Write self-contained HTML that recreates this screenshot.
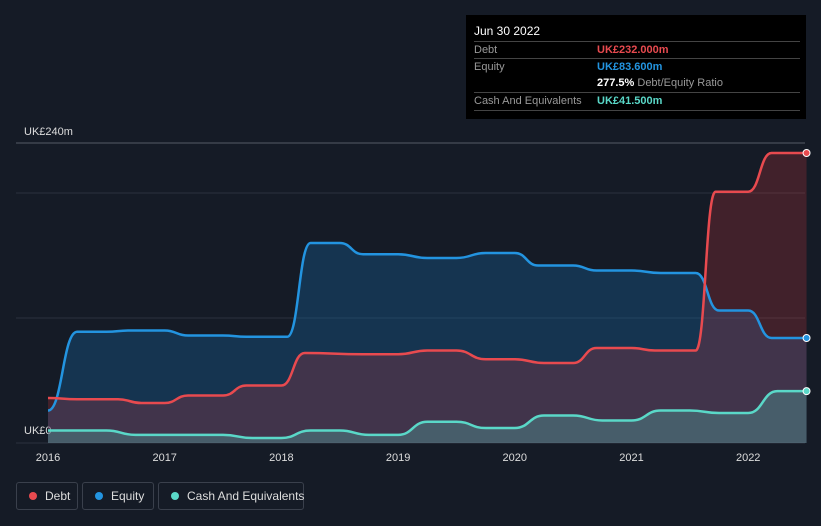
<!DOCTYPE html>
<html><head><meta charset="utf-8"><style>
body{margin:0;background:#151b26;font-family:"Liberation Sans",sans-serif;}
#wrap{position:relative;width:821px;height:526px;overflow:hidden;background:#151b26;}
.tt{position:absolute;left:466px;top:15px;width:340px;height:104px;background:#000;color:#ddd;font-size:11px;}
.tt .row{position:absolute;left:8px;right:6px;border-top:1px solid #444;height:17px;line-height:17px;color:#999;}
.tt .v{position:absolute;left:123px;font-weight:bold;}
.leg{position:absolute;top:482px;height:28px;border:1px solid #3a404c;border-radius:3px;color:#ddd;font-size:12px;line-height:26px;box-sizing:border-box;padding-left:28px;white-space:nowrap;}
.leg i{position:absolute;left:12px;top:9px;width:8px;height:8px;border-radius:50%;}
</style></head><body>
<div id="wrap">
<svg id="svg" width="821" height="526" style="position:absolute;left:0;top:0"></svg>
<div class="tt">
<div style="position:absolute;left:8px;top:9px;color:#fff;font-size:12px">Jun 30 2022</div>
<div class="row" style="top:26px">Debt<span class="v" style="color:#e84a4f">UK£232.000m</span></div>
<div class="row" style="top:43px">Equity<span class="v" style="color:#2394e0">UK£83.600m</span></div>
<div class="row" style="top:60px;border-top:none"><span class="v" style="color:#fff">277.5% <span style="color:#999;font-weight:normal">Debt/Equity Ratio</span></span></div>
<div class="row" style="top:77px;border-bottom:1px solid #444">Cash And Equivalents<span class="v" style="color:#5ad8c8">UK£41.500m</span></div>
</div>
<div class="leg" style="left:16px;width:62px"><i style="background:#e84a4f"></i>Debt</div>
<div class="leg" style="left:82px;width:72px"><i style="background:#2394e0"></i>Equity</div>
<div class="leg" style="left:158px;width:146px"><i style="background:#5ad8c8"></i>Cash And Equivalents</div>
</div>
<script>
const debtX=[2016,2016.25,2016.6,2016.8,2017,2017.2,2017.5,2017.7,2018,2018.2,2018.7,2019,2019.25,2019.5,2019.75,2020,2020.25,2020.5,2020.7,2021,2021.2,2021.55,2021.72,2022,2022.2,2022.5];
const debtV=[36,35,35,32,32,38,38,46,46,72,71,71,74,74,67,67,64,64,76,76,74,74,201,201,232,232];
const eqX=[2016,2016.25,2016.5,2016.7,2017,2017.2,2017.5,2017.7,2018.05,2018.25,2018.5,2018.7,2019,2019.25,2019.5,2019.75,2020,2020.2,2020.5,2020.7,2021,2021.25,2021.55,2021.75,2022,2022.2,2022.5];
const eqV=[26,89,89,90,90,86,86,85,85,160,160,151,151,148,148,152,152,142,142,138,138,136,136,106,106,84,84];
const cashX=[2016,2016.5,2016.75,2017,2017.5,2017.75,2018,2018.25,2018.5,2018.75,2019,2019.25,2019.5,2019.75,2020,2020.25,2020.5,2020.75,2021,2021.25,2021.5,2021.75,2022,2022.25,2022.5];
const cashV=[10,10,6.5,6.5,6.5,4,4,10,10,6.5,6.5,17,17,12,12,22,22,18,18,26,26,24,24,41.5,41.5];
const yTicks=[0,100,200,240];
const xTicks=[2016,2017,2018,2019,2020,2021,2022];
const X=v=>48+(v-2016)*116.7, Y=v=>443-v*1.25;
const svg=document.getElementById('svg'), NS='http://www.w3.org/2000/svg';
function mk(t,a,name){const e=document.createElementNS(NS,t);for(const k in a)e.setAttribute(k,a[k]);


svg.appendChild(e);return e;}
yTicks.forEach(t=>{mk('line',{x1:16,x2:805,y1:Y(t),y2:Y(t),stroke:t==240?'#555b66':'#2c323d','stroke-width':1},'gridline-'+t);});
mk('text',{x:24,y:135,fill:'#ddd','font-size':11},'y-label-top').textContent='UK£240m';
mk('text',{x:24,y:434,fill:'#ddd','font-size':11},'y-label-zero').textContent='UK£0';
xTicks.forEach(t=>{mk('text',{x:X(t),y:461,fill:'#ddd','font-size':11,'text-anchor':'middle'},'x-tick-'+t).textContent=t;});
function path(xs,vs){let d='M'+X(xs[0])+','+Y(vs[0]);for(let i=1;i<xs.length;i++){const x0=X(xs[i-1]),x1=X(xs[i]),m=(x0+x1)/2;d+=' C'+m+','+Y(vs[i-1])+' '+m+','+Y(vs[i])+' '+x1+','+Y(vs[i]);}return d;}
function series(xs,vs,col,fill,name){const p=path(xs,vs);
mk('path',{d:p+' L'+X(xs[xs.length-1])+','+Y(0)+' L'+X(xs[0])+','+Y(0)+'Z',fill:fill},name+'-area');
return p;}
const pe=series(eqX,eqV,'#2394e0','rgba(24,100,160,0.35)','equity');
const pd=series(debtX,debtV,'#e84a4f','rgba(200,50,60,0.25)','debt');
const pc=series(cashX,cashV,'#5ad8c8','rgba(90,216,200,0.25)','cash');
mk('path',{d:pe,fill:'none',stroke:'#2394e0','stroke-width':2.5},'equity-line');
mk('path',{d:pd,fill:'none',stroke:'#e84a4f','stroke-width':2.5},'debt-line');
mk('path',{d:pc,fill:'none',stroke:'#5ad8c8','stroke-width':2.5},'cash-line');
[[debtX,debtV,'#e84a4f','debt'],[eqX,eqV,'#2394e0','equity'],[cashX,cashV,'#5ad8c8','cash']].forEach(([xs,vs,c,n])=>{
mk('circle',{cx:X(xs[xs.length-1]),cy:Y(vs[vs.length-1]),r:3.5,fill:c,stroke:'#fff','stroke-width':1},n+'-end-point');});
</script>
</body></html>
